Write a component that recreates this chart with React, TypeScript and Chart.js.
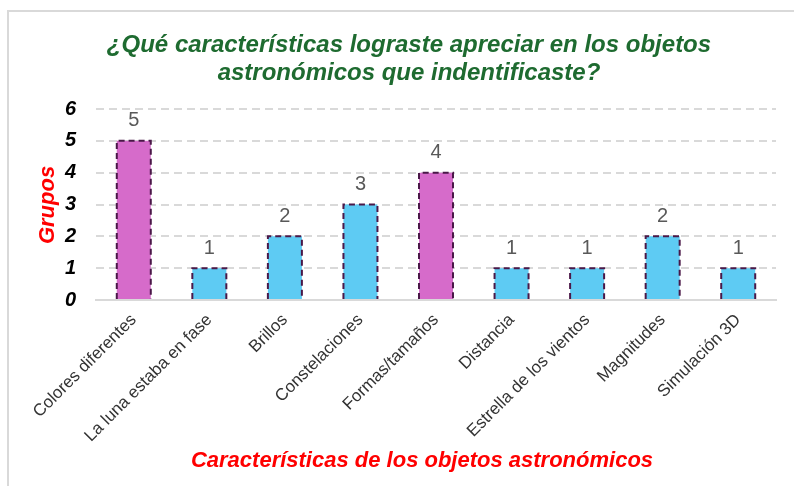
import React, { useEffect, useRef } from "react";
import { Chart, registerables } from "chart.js";

Chart.register(...registerables);

const categories = [
  "Colores diferentes",
  "La luna estaba en fase",
  "Brillos",
  "Constelaciones",
  "Formas/tamaños",
  "Distancia",
  "Estrella de los vientos",
  "Magnitudes",
  "Simulación 3D",
];
const values = [5, 1, 2, 3, 4, 1, 1, 2, 1];
const barColors = [
  "#D66BCA", "#5ECBF3", "#5ECBF3", "#5ECBF3", "#D66BCA",
  "#5ECBF3", "#5ECBF3", "#5ECBF3", "#5ECBF3",
];
const titleLines = [
  "¿Qué características lograste apreciar en los objetos",
  "astronómicos que indentificaste?",
];
const yTitle = "Grupos";
const xTitle = "Características de los objetos astronómicos";

const W = 794;
const H = 486;
const FONT = "'Liberation Sans', Arial, sans-serif";

const decorPlugin = {
  id: "decor",
  beforeDraw(chart: any) {
    const ctx = chart.ctx;
    ctx.save();
    ctx.fillStyle = "#ffffff";
    ctx.fillRect(0, 0, W, H);
    ctx.strokeStyle = "#D9D9D9";
    ctx.lineWidth = 2;
    ctx.strokeRect(8, 11, W + 20, H + 20);
    ctx.restore();
  },
  afterDatasetsDraw(chart: any) {
    const ctx = chart.ctx;
    const meta = chart.getDatasetMeta(0);
    ctx.save();
    meta.data.forEach((bar: any, i: number) => {
      const { x, y, base, width } = bar.getProps(["x", "y", "base", "width"], true);
      const l = x - width / 2;
      const r = x + width / 2;
      ctx.strokeStyle = "#4A1848";
      ctx.lineWidth = 2;
      ctx.setLineDash([6, 4]);
      ctx.beginPath();
      ctx.moveTo(l, base);
      ctx.lineTo(l, y);
      ctx.lineTo(r, y);
      ctx.lineTo(r, base);
      ctx.stroke();
      ctx.setLineDash([]);
      ctx.fillStyle = "#595959";
      ctx.font = `20px ${FONT}`;
      ctx.textAlign = "center";
      ctx.textBaseline = "middle";
      ctx.fillText(String(values[i]), x, y - 20);
    });
    ctx.restore();
  },
  afterDraw(chart: any) {
    const ctx = chart.ctx;
    ctx.save();
    ctx.textAlign = "center";
    ctx.textBaseline = "middle";
    ctx.fillStyle = "#1E6B30";
    ctx.font = `italic bold 24px ${FONT}`;
    ctx.fillText(titleLines[0], 409, 45);
    ctx.fillText(titleLines[1], 409, 73);
    ctx.fillStyle = "#FF0000";
    ctx.font = `italic bold 22px ${FONT}`;
    ctx.fillText(xTitle, 422, 461);
    ctx.translate(48, 205);
    ctx.rotate(-Math.PI / 2);
    ctx.fillText(yTitle, 0, 0);
    ctx.restore();
  },
};

export default function App() {
  const ref = useRef<HTMLCanvasElement | null>(null);
  useEffect(() => {
    if (!ref.current) return;
    const chart = new Chart(ref.current, {
      type: "bar",
      data: {
        labels: categories,
        datasets: [
          {
            data: values,
            backgroundColor: barColors,
            borderWidth: 0,
            barPercentage: 0.45,
            categoryPercentage: 1,
          },
        ],
      },
      options: {
        responsive: false,
        animation: false,
        devicePixelRatio: 1,
        layout: { padding: { left: 0, top: 109, right: 18, bottom: 0 } },
        plugins: {
          legend: { display: false },
          title: { display: false },
          tooltip: { enabled: false },
        },
        scales: {
          x: {
            afterFit(scale: any) {
              scale.height = H - 300;
            },
            grid: { display: false, drawTicks: false },
            border: { display: true, color: "#D9D9D9", width: 2 },
            ticks: {
              maxRotation: 45,
              minRotation: 45,
              autoSkip: false,
              padding: 10,
              color: "#333333",
              font: { family: FONT, size: 17 },
            },
          },
          y: {
            min: 0,
            max: 6,
            afterFit(scale: any) {
              scale.width = 96;
            },
            grid: {
              color: "#D9D9D9",
              lineWidth: 2,
              drawTicks: false,
            },
            border: { display: false, dash: [8, 5] },
            ticks: {
              stepSize: 1,
              padding: 20,
              color: "#000000",
              font: { family: FONT, size: 20, weight: "bold", style: "italic" },
            },
          },
        },
      } as any,
      plugins: [decorPlugin],
    });
    return () => chart.destroy();
  }, []);
  return (
    <div style={{ position: "absolute", left: 0, top: 0, width: W, height: H }}>
      <canvas ref={ref} width={W} height={H} style={{ width: W, height: H, display: "block" }} />
    </div>
  );
}
